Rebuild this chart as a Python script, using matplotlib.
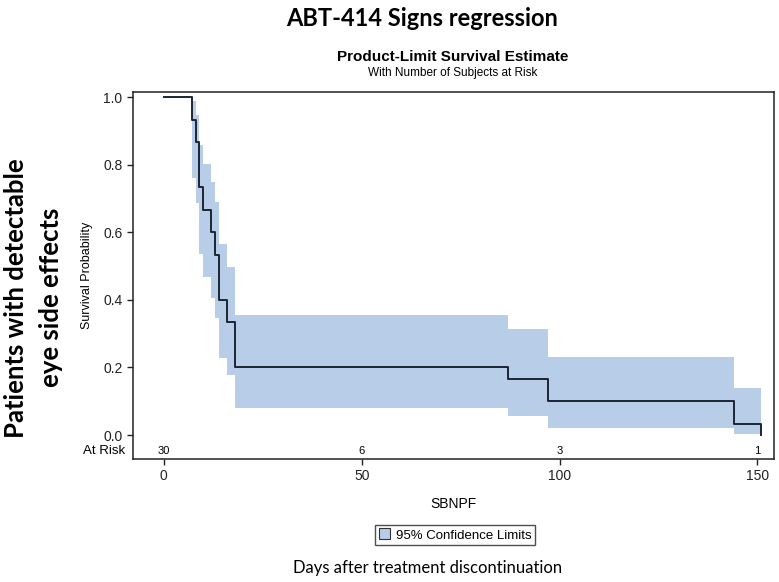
import matplotlib.pyplot as plt
import numpy as np

# Kaplan-Meier estimate
times = [0, 7, 8, 9, 10, 12, 13, 14, 16, 18, 87, 97, 144, 151]
survival = [1.0, 0.933, 0.867, 0.733, 0.667, 0.6, 0.533, 0.4, 0.333, 0.2, 0.167, 0.1, 0.033, 0.0]

# 95% confidence band (starts at first event)
band_times = [7, 8, 9, 10, 12, 13, 14, 16, 18, 87, 97, 144, 151]
band_lower = [0.760, 0.686, 0.537, 0.468, 0.404, 0.346, 0.227, 0.177, 0.080, 0.056, 0.020, 0.004, 0.004]
band_upper = [0.988, 0.947, 0.858, 0.802, 0.750, 0.690, 0.564, 0.498, 0.355, 0.314, 0.231, 0.139, 0.139]

# number at risk
risk_times = [0, 50, 100, 150]
risk_counts = [30, 6, 3, 1]

sas_font = 'Liberation Sans'
big_font = 'Lato'

fig = plt.figure(figsize=(7.79, 5.82), dpi=100)
ax = fig.add_axes([133 / 779, 1 - 459 / 582, (774 - 133) / 779, (459 - 92) / 582])

band = ax.fill_between(band_times, band_lower, band_upper, step='post',
                       color='#b8cee8', linewidth=0, label='95% Confidence Limits')
ax.step(times, survival, where='post', color='#1c2633', linewidth=1.4)

ax.set_xlim(-7.8, 154.2)
ax.set_ylim(-0.071, 1.015)
ax.set_xticks([0, 50, 100, 150])
ax.set_yticks([0.0, 0.2, 0.4, 0.6, 0.8, 1.0])
ax.set_yticklabels(['0.0', '0.2', '0.4', '0.6', '0.8', '1.0'])
ax.tick_params(direction='out', length=4, width=1, labelsize=10, colors='#222222')
for lab in ax.get_xticklabels() + ax.get_yticklabels():
    lab.set_family(sas_font)
for s in ax.spines.values():
    s.set_linewidth(1.1)
    s.set_color('#222222')

# at-risk row
for t, n in zip(risk_times, risk_counts):
    ax.text(t, -0.047, str(n), ha='center', va='center', fontsize=8, family=sas_font)
ax.text(-0.012, -0.047, 'At Risk', transform=ax.get_yaxis_transform(), ha='right', va='center',
        fontsize=9.5, family=sas_font)

ax.set_xlabel('SBNPF', fontsize=10, family=sas_font, labelpad=10)
ax.set_ylabel('Survival Probability', fontsize=9, family=sas_font, labelpad=7)

fig.text(453 / 779, 1 - 57 / 582, 'Product-Limit Survival Estimate', ha='center', va='center',
         fontsize=11, fontweight='bold', family=sas_font)
fig.text(453 / 779, 1 - 73 / 582, 'With Number of Subjects at Risk', ha='center', va='center',
         fontsize=8.5, family=sas_font)

fig.text(422 / 779, 1 - 18 / 582, 'ABT-414 Signs regression', ha='center', va='center',
         fontsize=17, fontweight='bold', family=big_font)
fig.text(16 / 779, 1 - 298 / 582, 'Patients with detectable', ha='center', va='center',
         rotation=90, fontsize=18.5, fontweight='bold', family=big_font)
fig.text(51 / 779, 1 - 297 / 582, 'eye side effects', ha='center', va='center',
         rotation=90, fontsize=18.5, fontweight='bold', family=big_font)
fig.text(428 / 779, 1 - 568 / 582, 'Days after treatment discontinuation', ha='center', va='center',
         fontsize=12, family=big_font)

leg = fig.legend(handles=[band], loc='center', bbox_to_anchor=(455 / 779, 1 - 535 / 582),
                 frameon=True, fancybox=False, handlelength=0.9, handleheight=0.9,
                 handletextpad=0.4, borderpad=0.3, prop={'family': sas_font, 'size': 9.5})
leg.get_frame().set_edgecolor('#222222')
leg.get_frame().set_linewidth(1)
leg.legend_handles[0].set_edgecolor('#333333')
leg.legend_handles[0].set_linewidth(0.8)

fig.savefig('out.png', dpi=100)
